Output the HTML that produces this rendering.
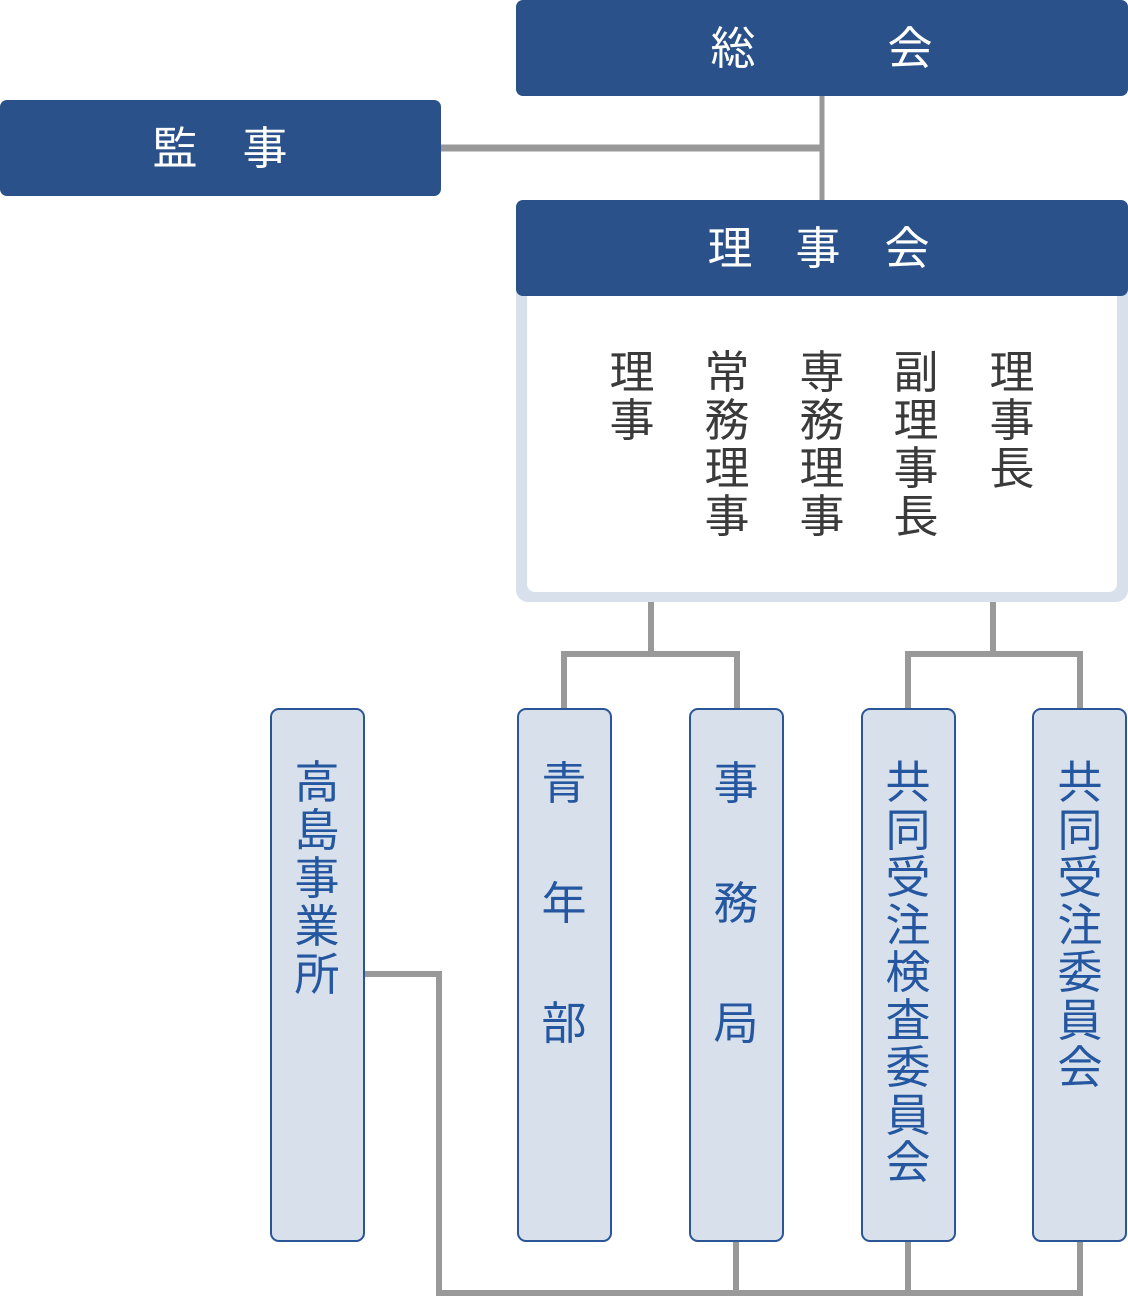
<!DOCTYPE html>
<html><head><meta charset="utf-8"><style>
body{margin:0;width:1128px;height:1299px;position:relative;background:#fff;overflow:hidden;font-family:"Liberation Sans","Noto Sans CJK JP",sans-serif;}
.d{position:absolute;background:#2a5189;border-radius:7px;}
.t{position:absolute;font-size:45px;line-height:48px;text-align:center;width:60px;}
.w{color:#fff}
.k{color:#3a3a3a}
.b{color:#2457a0}
.c{position:absolute;background:#d8e0ec;border:2.5px solid #2a5597;border-radius:9px;box-sizing:border-box;top:708px;height:534px;width:95px;}
</style></head><body>
<svg width="1128" height="1299" style="position:absolute;left:0;top:0" fill="none" stroke="#999">
<path d="M822 96V200" stroke-width="5"/>
<path d="M441 148H822" stroke-width="7"/>
<path d="M651 600V654H564V710M651 654H737V710" stroke-width="6"/>
<path d="M993 600V654H908V710M993 654H1080V710" stroke-width="6"/>
<path d="M364 974H439V1293H1080V1240M736 1240V1293M908 1240V1293" stroke-width="6"/>
</svg>
<div class="d" style="left:516px;top:0;width:612px;height:96px"></div>
<div class="t w" style="left:703px;top:25px">総</div>
<div class="t w" style="left:880px;top:25px">会</div>
<div class="d" style="left:0;top:100px;width:441px;height:96px"></div>
<div class="t w" style="left:145px;top:125px">監</div>
<div class="t w" style="left:235px;top:125px">事</div>
<div style="position:absolute;left:516px;top:200px;width:612px;height:402px;background:#d8e0ec;border-radius:12px"></div>
<div style="position:absolute;left:527px;top:290px;width:590px;height:302px;background:#fff;border-radius:0 0 8px 8px"></div>
<div class="d" style="left:516px;top:200px;width:612px;height:96px"></div>
<div class="t w" style="left:700px;top:225px">理</div>
<div class="t w" style="left:788px;top:225px">事</div>
<div class="t w" style="left:877px;top:225px">会</div>
<div class="t k" style="left:602px;top:349px">理<br>事</div>
<div class="t k" style="left:697px;top:349px">常<br>務<br>理<br>事</div>
<div class="t k" style="left:792px;top:349px">専<br>務<br>理<br>事</div>
<div class="t k" style="left:886px;top:349px">副<br>理<br>事<br>長</div>
<div class="t k" style="left:982px;top:349px">理<br>事<br>長</div>
<div class="c" style="left:270px"></div>
<div class="c" style="left:517px"></div>
<div class="c" style="left:689px"></div>
<div class="c" style="left:861px"></div>
<div class="c" style="left:1032px"></div>
<div class="t b" style="left:287px;top:759px">高<br>島<br>事<br>業<br>所</div>
<div class="t b" style="left:534px;top:724px;line-height:120px">青<br>年<br>部</div>
<div class="t b" style="left:706px;top:724px;line-height:120px">事<br>務<br>局</div>
<div class="t b" style="left:878px;top:759px;line-height:47.5px">共<br>同<br>受<br>注<br>検<br>査<br>委<br>員<br>会</div>
<div class="t b" style="left:1050px;top:759px;line-height:47.5px">共<br>同<br>受<br>注<br>委<br>員<br>会</div>
</body></html>
